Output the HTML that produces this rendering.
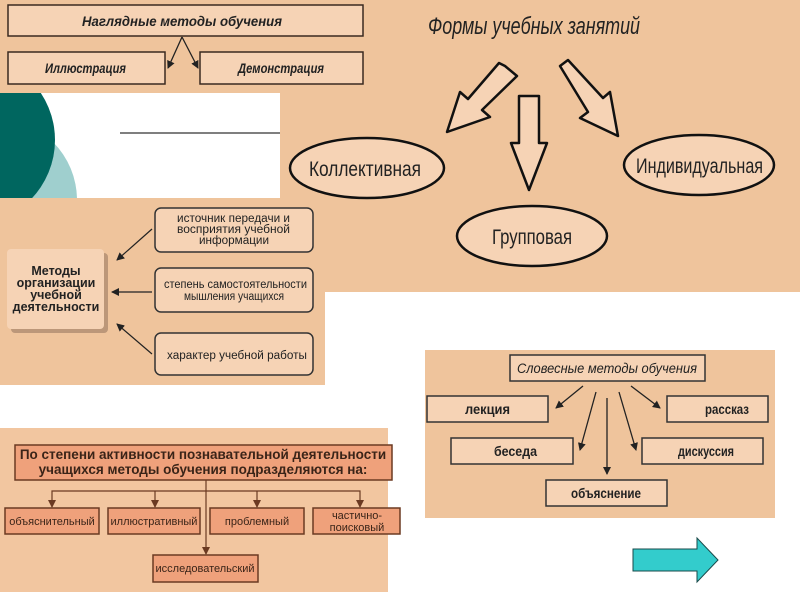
<!DOCTYPE html>
<html><head><meta charset="utf-8"><style>
html,body{margin:0;padding:0;background:#fff;width:800px;height:600px;overflow:hidden}
svg{display:block}
text{font-family:"Liberation Sans Narrow","Liberation Sans",sans-serif}
</style></head><body>
<svg width="800" height="600" viewBox="0 0 800 600" xmlns="http://www.w3.org/2000/svg">
<defs>
<marker id="a" markerWidth="8" markerHeight="8" refX="7" refY="4" orient="auto" markerUnits="userSpaceOnUse"><path d="M0,0 L8,4 L0,8 z" fill="#222"/></marker>
<marker id="b" markerWidth="8" markerHeight="8" refX="7" refY="4" orient="auto" markerUnits="userSpaceOnUse"><path d="M0,0 L8,4 L0,8 z" fill="#6b3a22"/></marker>
</defs>
<rect x="0" y="0" width="800" height="292" fill="#efc49c"/>
<rect x="0" y="93" width="280" height="105" fill="#fff"/>
<clipPath id="cl"><rect x="0" y="93" width="280" height="105"/></clipPath>
<g clip-path="url(#cl)">
<circle cx="-5" cy="200" r="82" fill="#9fcfce"/>
<circle cx="-30" cy="140" r="85" fill="#00665f"/>
</g>
<line x1="120" y1="133" x2="280" y2="133" stroke="#333" stroke-width="1.2"/>
<g stroke="#3a2a20" stroke-width="1.5" fill="#f6d3b5">
<rect x="8" y="5" width="355" height="31"/>
<rect x="8" y="52" width="157" height="32"/>
<rect x="200" y="52" width="163" height="32"/>
</g>
<line x1="182" y1="37" x2="168" y2="68" stroke="#222" stroke-width="1.3" marker-end="url(#a)"/>
<line x1="182" y1="37" x2="198" y2="68" stroke="#222" stroke-width="1.3" marker-end="url(#a)"/>
<g font-style="italic" font-weight="bold" font-size="14" fill="#222" lengthAdjust="spacingAndGlyphs">
<text x="82" y="26" textLength="200" lengthAdjust="spacingAndGlyphs">Наглядные методы обучения</text>
<text x="45" y="73" textLength="81" lengthAdjust="spacingAndGlyphs">Иллюстрация</text>
<text x="238" y="73" textLength="86" lengthAdjust="spacingAndGlyphs">Демонстрация</text>
</g>
<text x="428" y="34" font-style="italic" font-size="24" fill="#222" textLength="212" lengthAdjust="spacingAndGlyphs">Формы учебных занятий</text>
<g fill="#f6d3b5" stroke="#111" stroke-width="2.5" stroke-linejoin="round">
<path d="M505,66 L517,76 L482,110 L490,117 L447,132 L460,92 L468,99 L499,63 Z"/>
<path d="M519,96 L539,96 L539,143 L547,143 L529,190 L511,143 L519,143 Z"/>
<path d="M560,66 L568,60 L603,98 L610,92 L618,136 L580,118 L588,112 Z"/>
<ellipse cx="367" cy="168" rx="77" ry="30"/>
<ellipse cx="532" cy="236" rx="75" ry="30"/>
<ellipse cx="699" cy="165" rx="75" ry="30"/>
</g>
<g font-size="21" fill="#222">
<text x="309" y="176" textLength="112" lengthAdjust="spacingAndGlyphs">Коллективная</text>
<text x="492" y="244" textLength="80" lengthAdjust="spacingAndGlyphs">Групповая</text>
<text x="636" y="173" textLength="127" lengthAdjust="spacingAndGlyphs">Индивидуальная</text>
</g>
<rect x="0" y="198" width="325" height="187" fill="#efc49c"/>
<rect x="11" y="253" width="97" height="80" rx="4" fill="#8a6a55" opacity="0.5"/>
<rect x="7" y="249" width="97" height="80" rx="4" fill="#f6d3b5"/>
<g fill="#f6d3b5" stroke="#333" stroke-width="1.5">
<rect x="155" y="208" width="158" height="44" rx="6"/>
<rect x="155" y="268" width="158" height="44" rx="6"/>
<rect x="155" y="333" width="158" height="42" rx="6"/>
</g>
<g stroke="#222" stroke-width="1.2">
<line x1="152" y1="229" x2="117" y2="260" marker-end="url(#a)"/>
<line x1="152" y1="292" x2="112" y2="292" marker-end="url(#a)"/>
<line x1="152" y1="354" x2="117" y2="324" marker-end="url(#a)"/>
</g>
<g font-weight="bold" font-size="12.5" fill="#222" text-anchor="middle">
<text x="56" y="275">Методы</text>
<text x="56" y="287">организации</text>
<text x="56" y="299">учебной</text>
<text x="56" y="311">деятельности</text>
</g>
<g font-size="11.5" fill="#222">
<text x="177" y="222" textLength="113" lengthAdjust="spacingAndGlyphs">источник передачи и</text>
<text x="177" y="233" textLength="113" lengthAdjust="spacingAndGlyphs">восприятия учебной</text>
<text x="199" y="244" textLength="70" lengthAdjust="spacingAndGlyphs">информации</text>
<text x="164" y="288" textLength="143" lengthAdjust="spacingAndGlyphs">степень самостоятельности</text>
<text x="184" y="300" textLength="100" lengthAdjust="spacingAndGlyphs">мышления учащихся</text>
<text x="167" y="359" textLength="140" lengthAdjust="spacingAndGlyphs">характер учебной работы</text>
</g>
<rect x="425" y="350" width="350" height="168" fill="#efc49c"/>
<g fill="#f6d3b5" stroke="#333" stroke-width="1.5">
<rect x="510" y="355" width="195" height="26"/>
<rect x="427" y="396" width="121" height="26"/>
<rect x="667" y="396" width="101" height="26"/>
<rect x="451" y="438" width="122" height="26"/>
<rect x="642" y="438" width="121" height="26"/>
<rect x="546" y="480" width="121" height="26"/>
</g>
<g stroke="#222" stroke-width="1.3">
<line x1="583" y1="386" x2="556" y2="408" marker-end="url(#a)"/>
<line x1="596" y1="392" x2="580" y2="450" marker-end="url(#a)"/>
<line x1="607" y1="398" x2="607" y2="474" marker-end="url(#a)"/>
<line x1="619" y1="392" x2="636" y2="450" marker-end="url(#a)"/>
<line x1="631" y1="386" x2="660" y2="408" marker-end="url(#a)"/>
</g>
<g font-size="13.5" fill="#222">
<text x="517" y="373" font-style="italic" textLength="180" lengthAdjust="spacingAndGlyphs">Словесные методы обучения</text>
<text x="465" y="414" font-weight="bold" textLength="45" lengthAdjust="spacingAndGlyphs">лекция</text>
<text x="705" y="414" font-weight="bold" textLength="44" lengthAdjust="spacingAndGlyphs">рассказ</text>
<text x="494" y="456" font-weight="bold" textLength="43" lengthAdjust="spacingAndGlyphs">беседа</text>
<text x="678" y="456" font-weight="bold" textLength="56" lengthAdjust="spacingAndGlyphs">дискуссия</text>
<text x="571" y="498" font-weight="bold" textLength="70" lengthAdjust="spacingAndGlyphs">объяснение</text>
</g>
<rect x="0" y="428" width="388" height="164" fill="#f2c6a0"/>
<rect x="15" y="445" width="377" height="35" fill="#efa17b" stroke="#6b3a22" stroke-width="1.5"/>
<g stroke="#6b3a22" stroke-width="1.2" fill="none">
<polyline points="52,498 52,491 360,491 360,498"/>
<line x1="155" y1="491" x2="155" y2="507" marker-end="url(#b)"/>
<line x1="257" y1="491" x2="257" y2="507" marker-end="url(#b)"/>
<line x1="52" y1="498" x2="52" y2="507" marker-end="url(#b)"/>
<line x1="360" y1="498" x2="360" y2="507" marker-end="url(#b)"/>
<line x1="206" y1="480" x2="206" y2="554" marker-end="url(#b)"/>
</g>
<g fill="#efa17b" stroke="#6b3a22" stroke-width="1.5">
<rect x="5" y="508" width="94" height="26"/>
<rect x="108" y="508" width="92" height="26"/>
<rect x="210" y="508" width="94" height="26"/>
<rect x="313" y="508" width="87" height="26"/>
<rect x="153" y="555" width="105" height="27"/>
</g>
<g font-size="11" fill="#3a2418" text-anchor="middle" style="font-family:'Liberation Sans',sans-serif">
<text x="203" y="459" font-weight="bold" font-size="13.5" style="font-family:'Liberation Sans',sans-serif">По степени активности познавательной деятельности</text>
<text x="203" y="474" font-weight="bold" font-size="13.5" style="font-family:'Liberation Sans',sans-serif">учащихся методы обучения подразделяются на:</text>
<text x="52" y="525" style="font-family:'Liberation Sans',sans-serif">объяснительный</text>
<text x="154" y="525" style="font-family:'Liberation Sans',sans-serif">иллюстративный</text>
<text x="257" y="525" style="font-family:'Liberation Sans',sans-serif">проблемный</text>
<text x="357" y="519" style="font-family:'Liberation Sans',sans-serif">частично-</text>
<text x="357" y="531" style="font-family:'Liberation Sans',sans-serif">поисковый</text>
<text x="205" y="572" style="font-family:'Liberation Sans',sans-serif">исследовательский</text>
</g>
<path d="M633,549 L697,549 L697,538 L718,560 L697,582 L697,571 L633,571 Z" fill="#33cccc" stroke="#1a4a4a" stroke-width="1"/>
</svg>
</body></html>
